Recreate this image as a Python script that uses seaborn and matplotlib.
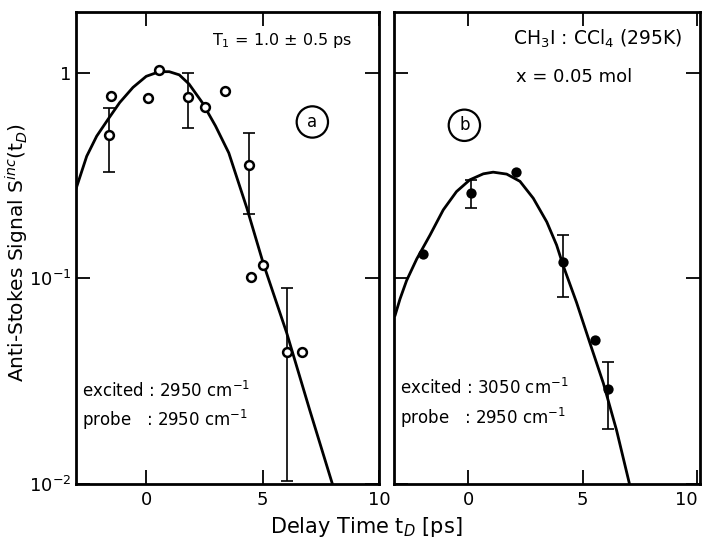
import numpy as np
import pandas as pd
import matplotlib
matplotlib.use("Agg")
import matplotlib.pyplot as plt
import seaborn as sns

# ---- panel (a): open circles ----
a_x = [-1.54, -1.62, 0.05, 0.53, 1.77, 2.5, 3.37, 4.4, 5.0, 4.5, 6.06, 6.7]
a_y = [0.77, 0.50, 0.75, 1.03, 0.76, 0.68, 0.81, 0.354, 0.116, 0.102, 0.0439, 0.0439]
a_err_x = [-1.62, 1.77, 4.4, 6.06]
a_err_y = [0.50, 0.76, 0.354, 0.0439]
a_err_lo = [0.33, 0.54, 0.206, 0.0103]
a_err_hi = [0.67, 1.00, 0.51, 0.090]
a_fit_x = [-3.03, -2.57, -2.14, -1.65, -1.15, -0.58, -0.01, 0.55, 0.98, 1.41,
           1.83, 2.40, 2.97, 3.54, 4.32, 5.03, 6.03, 7.02, 8.02]
a_fit_y = [0.272, 0.392, 0.491, 0.593, 0.715, 0.847, 0.959, 1.01, 1.01, 0.975,
           0.880, 0.715, 0.550, 0.407, 0.219, 0.1175, 0.0543, 0.0229, 0.0098]

# ---- panel (b): filled circles ----
b_x = [-1.98, 0.12, 2.08, 4.14, 5.53, 6.10]
b_y = [0.131, 0.26, 0.327, 0.12, 0.050, 0.029]
b_err_x = [0.12, 4.14, 6.10]
b_err_y = [0.26, 0.12, 0.029]
b_err_lo = [0.22, 0.081, 0.0186]
b_err_hi = [0.30, 0.162, 0.039]
b_fit_x = [-3.2, -2.98, -2.69, -2.25, -1.67, -1.09, -0.51, 0.07, 0.66, 1.09, 1.68,
           2.26, 2.84, 3.43, 3.86, 4.15, 4.73, 5.31, 5.90, 6.48, 7.09]
b_fit_y = [0.0656, 0.0792, 0.0975, 0.124, 0.162, 0.215, 0.264, 0.301, 0.322, 0.328, 0.321,
           0.296, 0.245, 0.188, 0.145, 0.115, 0.0763, 0.0486, 0.0309, 0.0182, 0.0095]

x_ticks = [0, 5, 10]
x_ticklabels = ["0", "5", "10"]
y_ticks = [1e-2, 1e-1, 1]
y_ticklabels = ["$10^{-2}$", "$10^{-1}$", "1"]

sns.set_style("ticks")
plt.rcParams['font.family'] = ['DejaVu Sans']
plt.rcParams['text.color'] = 'black'
plt.rcParams['xtick.color'] = 'black'
plt.rcParams['ytick.color'] = 'black'
plt.rcParams['axes.edgecolor'] = 'black'

fig = plt.figure(figsize=(7.07, 5.42), dpi=100)
axA = fig.add_axes([76/707, 1-484/542, 303/707, 472/542])
axB = fig.add_axes([394/707, 1-484/542, 306/707, 472/542])

dfa = pd.DataFrame({"x": a_x, "y": a_y})
dfaf = pd.DataFrame({"x": a_fit_x, "y": a_fit_y})
dfb = pd.DataFrame({"x": b_x, "y": b_y})
dfbf = pd.DataFrame({"x": b_fit_x, "y": b_fit_y})

for ax in (axA, axB):
    ax.set_yscale("log")

sns.lineplot(data=dfaf, x="x", y="y", ax=axA, color="black", lw=2, sort=True)
sns.scatterplot(data=dfa, x="x", y="y", ax=axA, marker="o", s=40,
                facecolor="white", edgecolor="black", linewidth=1.8, zorder=5)
ea = np.array(a_err_y)
axA.errorbar(a_err_x, a_err_y,
             yerr=[ea - np.array(a_err_lo), np.array(a_err_hi) - ea],
             fmt="none", ecolor="black", elinewidth=1.2, capsize=4, capthick=1.2)

sns.lineplot(data=dfbf, x="x", y="y", ax=axB, color="black", lw=2, sort=True)
sns.scatterplot(data=dfb, x="x", y="y", ax=axB, marker="o", s=55,
                color="black", edgecolor="black", linewidth=0, zorder=5)
eb = np.array(b_err_y)
axB.errorbar(b_err_x, b_err_y,
             yerr=[eb - np.array(b_err_lo), np.array(b_err_hi) - eb],
             fmt="none", ecolor="black", elinewidth=1.2, capsize=4, capthick=1.2)

axA.set_xlim(-3.03, 9.9)
axB.set_xlim(-3.24, 10.12)
for ax in (axA, axB):
    ax.set_ylim(0.01, 1.97)
    ax.set_xticks(x_ticks)
    ax.set_yticks(y_ticks)
    ax.yaxis.set_minor_locator(matplotlib.ticker.NullLocator())
    ax.tick_params(direction="in", length=10, width=1.3, top=True, right=True,
                   labelsize=13)
    ax.tick_params(axis="x", pad=5)
    ax.tick_params(axis="y", pad=3)
    for s in ax.spines.values():
        s.set_linewidth(2)
        s.set_visible(True)
        s.set_color("black")
    ax.set_xlabel("")
    ax.set_ylabel("")
    ax.set_xticklabels(x_ticklabels)

axA.set_yticklabels(y_ticklabels)
axB.set_yticklabels([])
for lbl in axB.get_xticklabels():
    if lbl.get_text() == "10":
        lbl.set_horizontalalignment("right")

fs = 12
axA.text(0.45, 0.93, r"T$_1$ = 1.0 ± 0.5 ps", transform=axA.transAxes, fontsize=11.5)
axA.text(0.78, 0.767, "a", transform=axA.transAxes, fontsize=fs, ha="center", va="center",
         bbox=dict(boxstyle="circle,pad=0.4", fc="white", ec="black", lw=1.6))
axA.text(0.02, 0.185, r"excited : 2950 cm$^{-1}$", transform=axA.transAxes, fontsize=fs)
axA.text(0.02, 0.123, r"probe   : 2950 cm$^{-1}$", transform=axA.transAxes, fontsize=fs)

axB.text(0.39, 0.93, r"CH$_3$I : CCl$_4$ (295K)", transform=axB.transAxes, fontsize=13.5)
axB.text(0.40, 0.852, r"x = 0.05 mol", transform=axB.transAxes, fontsize=13)
axB.text(0.23, 0.76, "b", transform=axB.transAxes, fontsize=fs, ha="center", va="center",
         bbox=dict(boxstyle="circle,pad=0.4", fc="white", ec="black", lw=1.6))
axB.text(0.02, 0.19, r"excited : 3050 cm$^{-1}$", transform=axB.transAxes, fontsize=fs)
axB.text(0.02, 0.128, r"probe   : 2950 cm$^{-1}$", transform=axB.transAxes, fontsize=fs)

fig.text(17/707, 1-253/542, r"Anti-Stokes Signal S$^{inc}$(t$_D$)", rotation=90,
         ha="center", va="center", fontsize=14.5)
fig.text(366/707, 1-527/542, r"Delay Time t$_D$ [ps]", ha="center", va="center", fontsize=15)

fig.savefig("out.png", dpi=100)
